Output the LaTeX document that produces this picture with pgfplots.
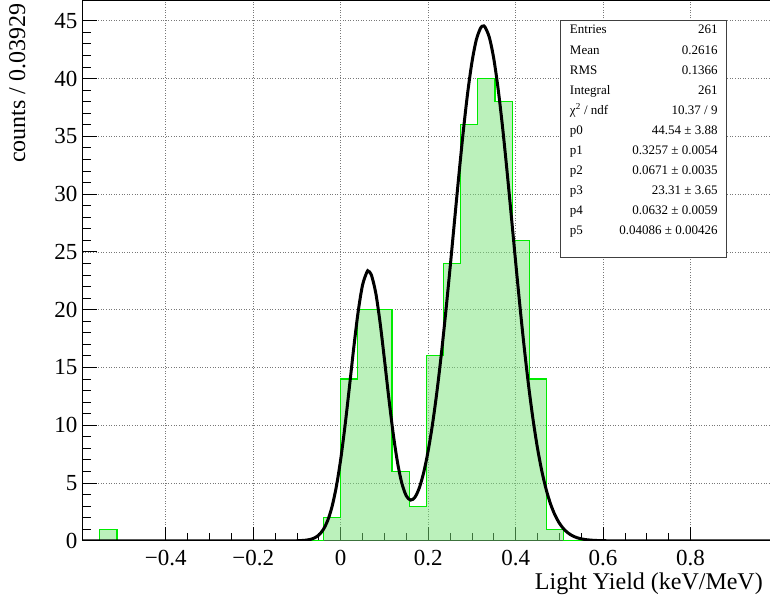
\documentclass[border=0pt]{standalone}
\usepackage{fontspec}
\setmainfont{Liberation Serif}
\usepackage{pgfplots}
\pgfplotsset{compat=1.18}
\usepackage{pgfplotstable}

\definecolor{histfill}{RGB}{120,228,120}
\definecolor{histline}{RGB}{0,235,0}
\definecolor{gridgray}{RGB}{120,120,120}

% Histogram: lower bin edge and counts (bin width 0.03929, 40 bins from -0.59)
\pgfplotstableread{
edge      count
-0.59000  0
-0.55071  1
-0.51142  0
-0.03994  2
-0.00065  14
0.03864   20
0.07793   20
0.11722   6
0.15651   3
0.19580   16
0.23509   24
0.27438   36
0.31367   40
0.35296   38
0.39225   26
0.43154   14
0.47083   1
0.51012   0
0.98160   0
}\histdata

% Double-Gaussian fit, sampled
\pgfplotstableread{
x        y
-0.5900  0
-0.1200  0.001
-0.1000  0.008
-0.0900  0.021
-0.0800  0.050
-0.0700  0.115
-0.0600  0.247
-0.0500  0.502
-0.0400  0.960
-0.0300  1.728
-0.0200  2.932
-0.0100  4.684
0.0000   7.048
0.0100   9.988
0.0200   13.331
0.0300   16.760
0.0400   19.845
0.0500   22.134
0.0600   23.257
0.0632   23.330
0.0700   23.020
0.0800   21.475
0.0900   18.891
0.1000   15.694
0.1100   12.351
0.1200   9.276
0.1300   6.758
0.1400   4.952
0.1500   3.886
0.1600   3.520
0.1700   3.783
0.1800   4.608
0.1900   5.952
0.2000   7.789
0.2100   10.109
0.2200   12.895
0.2300   16.114
0.2400   19.705
0.2500   23.571
0.2600   27.580
0.2700   31.559
0.2800   35.321
0.2900   38.662
0.3000   41.390
0.3100   43.337
0.3200   44.380
0.3257   44.540
0.3300   44.449
0.3400   43.540
0.3500   41.713
0.3600   39.084
0.3700   35.819
0.3800   32.106
0.3900   28.140
0.4000   24.126
0.4100   20.231
0.4200   16.591
0.4300   13.307
0.4400   10.440
0.4500   8.009
0.4600   6.010
0.4700   4.412
0.4800   3.166
0.4900   2.223
0.5000   1.526
0.5100   1.025
0.5200   0.673
0.5300   0.432
0.5400   0.272
0.5500   0.167
0.5600   0.100
0.5800   0.034
0.6000   0.011
0.6400   0.001
0.9816   0
}\fitdata

\begin{document}
\begin{tikzpicture}
\path[use as bounding box] (-82.7pt,-58pt) rectangle (687.6pt,541pt);
\begin{axis}[
  name=main,
  at={(0,0)}, anchor=south west,
  scale only axis, width=687.6pt, height=540.75pt,
  xmin=-0.59, xmax=0.9816, ymin=0, ymax=46.77,
  axis line style={line width=0.8pt},
  tick align=inside, xtick pos=left, ytick pos=left,
  xtick={-0.4,-0.2,0,0.2,0.4,0.6,0.8},
  xticklabels={−0.4,−0.2,0,0.2,0.4,0.6,0.8},
  ytick={0,5,...,45},
  minor x tick num=3, minor y tick num=4,
  major tick length=14pt, minor tick length=8pt,
  tick style={black, line width=0.8pt},
  grid=major,
  major grid style={dash pattern=on 1pt off 1.6pt, gridgray, line width=0.7pt},
  /pgf/number format/assume math mode=true,
  ticklabel style={font=\fontsize{23}{26}\selectfont},
  xticklabel style={inner sep=0pt, anchor=north, yshift=-9.5pt},
  yticklabel style={inner sep=0pt, anchor=east, xshift=-5pt},
  label style={font=\fontsize{24}{28}\selectfont},
  xlabel={Light Yield (keV/MeV)},
  ylabel={counts / 0.03929},
  xlabel style={at={([xshift=-7pt,yshift=-32pt]axis description cs:1,0)}, anchor=north east, inner sep=0pt},
  ylabel style={at={([xshift=-57pt,yshift=-3pt]axis description cs:0,1)}, anchor=south east, inner sep=0pt},
]
% filled bins, then their green outline on top at full opacity
\addplot[const plot mark left, draw=none, fill=histfill, fill opacity=0.5]
  table[x=edge, y=count] {\histdata} \closedcycle;
\addplot[const plot mark left, draw=histline, line width=1.2pt]
  table[x=edge, y=count] {\histdata};
\addplot[black, line width=3pt, smooth, tension=0.5] table[x=x, y=y] {\fitdata};
\end{axis}

% Statistics box
\begin{scope}[shift={(main.south west)}, font=\fontsize{13}{15}\selectfont]
  \draw[black!75, line width=0.8pt, fill=white] (478.3pt,283pt) rectangle (644.3pt,521pt);
  \foreach \i/\lab/\val in {0/Entries/261, 1/Mean/0.2616, 2/RMS/0.1366, 3/Integral/261,
      4/{χ\textsuperscript{2} / ndf}/{10.37 / 9},
      5/p0/{44.54 ± 3.88}, 6/p1/{0.3257 ± 0.0054}, 7/p2/{0.0671 ± 0.0035},
      8/p3/{23.31 ± 3.65}, 9/p4/{0.0632 ± 0.0059}, 10/p5/{0.04086 ± 0.00426}} {
    \node[anchor=mid west, inner sep=0pt] at (487.3pt, 509.3pt-20.1pt*\i) {\lab};
    \node[anchor=mid east, inner sep=0pt] at (635.3pt, 509.3pt-20.1pt*\i) {\val};
  }
\end{scope}
\end{tikzpicture}
\end{document}
